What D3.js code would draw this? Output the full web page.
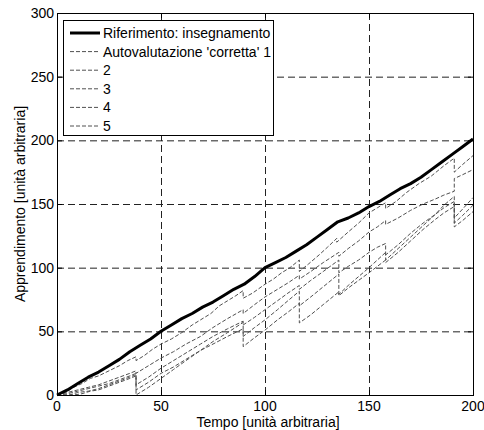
<!DOCTYPE html>
<html>
<head>
<meta charset="utf-8">
<title>apprendimento</title>
<style>
  body { margin: 0; background: #fff; }
  text { font-family: "Liberation Sans", Arial, Helvetica, sans-serif; font-size: 14px; fill: #000; }
</style>
</head>
<body>
<script src="https://d3js.org/d3.v7.min.js"></script>
<svg width="484" height="430" id="mainsvg"></svg>
<script>
// tick labels and legend
const xTicks = [0, 50, 100, 150, 200];
const yTicks = [0, 50, 100, 150, 200, 250, 300];
const legendLabels = ["Riferimento: insegnamento", "Autovalutazione 'corretta' 1", "2", "3", "4", "5"];

// reference (teaching)
const refX = [0,5,10,15,20,25,30,35,40,45,50,55,60,65,70,75,80,85,90,95,100,105,110,115,120,125,130,135,140,145,150,155,160,165,170,175,180,185,190,195,200];
const refY = [0,4,9,14,18,23,28,34,39,44,50,55,60,64,69,73,78,83,87,93,100,104,108,113,118,124,130,136,139,143,148,152,157,162,166,171,177,183,189,195,201];

// corrected self evaluations, [time, value]
const auto1 = [[0,0],[4,2],[8,6],[12,9],[16,13],[20,15],[25,19],[30,23],[34,27],[38,30],[38,27],[42,31],[46,36],[50,40],[55,44],[60,49],[65,55],[69,59],[74,64],[78,70],[82,74],[86,78],[89.5,82],[89.5,76],[94,80],[100,87],[104,91],[108,96],[112,100],[116.5,106],[116.5,97],[121,103],[126,110],[130,116],[134.5,123],[134.5,120],[140,128],[145,135],[150,143],[154,147],[158,151],[158,146.5],[163,152],[168,159],[174,166],[180,172],[186,180],[191,186],[191,175],[195,181],[200,188]];
const auto2 = [[0,0],[5,2],[10,4],[15,6],[20,8],[25,11],[30,14],[35,17],[38,19],[38,17],[44,23],[50,29],[56,34],[62,40],[69,46],[75,53],[82,60],[89.5,67],[89.5,64],[95,71],[100,77],[106,83],[111,88],[116.5,94],[116.5,91],[122,97],[128,104],[135.5,112],[135.5,109],[140,115],[145,121],[150,128],[154,132],[158,137],[158,134],[164,139],[170,145],[176,150],[182,154],[186,157],[191,160],[191,170],[195,173],[200,177]];
const auto3 = [[0,0],[5,1],[10,3],[15,5],[20,7],[25,9],[30,12],[35,15],[38,17],[38,8],[44,14],[50,21],[56,27],[62,33],[69,40],[75,46],[82,52],[89.5,58],[89.5,55],[95,61],[100,67],[106,74],[111,80],[116.5,86],[116.5,83],[122,90],[128,97],[135.5,106],[135.5,96],[140,101],[145,106],[150,112],[154,116],[158,119],[158,106],[164,115],[170,124],[176,133],[182,142],[186,149],[191,156],[191,139],[195,146],[200,155]];
const auto4 = [[0,0],[6,0],[10,2],[15,3],[20,5],[25,8],[30,11],[35,14],[38,16],[38,4],[44,10],[50,17],[56,22],[62,28],[69,35],[75,40],[82,46],[89.5,52],[89.5,46],[95,53],[100,59],[106,67],[111,74],[116.5,81.5],[116.5,56.6],[122,63],[128,71],[135.5,81],[135.5,79],[140,86],[145,93],[150,100],[154,106],[158,112],[158,110],[164,118],[170,127],[176,135],[182,142],[186,147],[191,152],[191,135],[195,141],[200,149]];
const auto5 = [[0,0],[8,0],[12,1],[16,3],[20,4],[25,7],[30,10],[35,13],[38,15],[38,0],[44,6],[50,13],[56,20],[62,27],[69,35],[75,42],[82,49],[89.5,57],[89.5,38],[95,45],[100,51],[106,59],[111,65],[116.5,72],[116.5,70],[122,77],[128,85],[135.5,95],[135.5,78],[140,84],[145,90],[150,96],[154,101],[158,106],[158,104],[164,112],[170,121],[176,130],[182,138],[186,143],[191,148],[191,132],[195,137],[200,144]];

const svg = d3.select('#mainsvg');
const plotL = 57, plotR = 473, plotT = 13, plotB = 395;

const x = d3.scaleLinear().domain([0, 200]).range([plotL, plotR]);
const y = d3.scaleLinear().domain([0, 300]).range([plotB, plotT]);

// grid
const grid = svg.append("g")
    .attr("stroke", "#222")
    .attr("stroke-width", 1)
    .attr("stroke-dasharray", "7,4");
grid.selectAll("line.gx")
    .data(xTicks.slice(1, -1))
    .join("line")
    .attr("class", "gx")
    .attr("x1", d => x(d) + 0.5).attr("x2", d => x(d) + 0.5)
    .attr("y1", plotT).attr("y2", plotB);
grid.selectAll("line.gy")
    .data(yTicks.slice(1, -1))
    .join("line")
    .attr("class", "gy")
    .attr("y1", d => y(d) + 0.5).attr("y2", d => y(d) + 0.5)
    .attr("x1", plotL).attr("x2", plotR);

// series
const line = d3.line().x(d => x(d[0])).y(d => y(d[1]));
const autos = [auto1, auto2, auto3, auto4, auto5];
svg.append("g")
    .attr("fill", "none")
    .attr("stroke", "#505050")
    .attr("stroke-width", 1)
    .attr("stroke-dasharray", "4,2")
    .selectAll("path")
    .data(autos)
    .join("path")
    .attr("d", line);

svg.append("path")
    .datum(refX.map((d, i) => [d, refY[i]]))
    .attr("fill", "none")
    .attr("stroke", "#000")
    .attr("stroke-width", 3)
    .attr("stroke-linejoin", "round")
    .attr("d", line);

// axes box and ticks (inward, all four sides)
svg.append("rect")
    .attr("x", plotL + 0.5).attr("y", plotT + 0.5)
    .attr("width", plotR - plotL).attr("height", plotB - plotT)
    .attr("fill", "none").attr("stroke", "#000");

const ticks = svg.append("g").attr("stroke", "#000");
xTicks.forEach(d => {
    ticks.append("line").attr("x1", x(d) + 0.5).attr("x2", x(d) + 0.5).attr("y1", plotB).attr("y2", plotB - 5);
    ticks.append("line").attr("x1", x(d) + 0.5).attr("x2", x(d) + 0.5).attr("y1", plotT).attr("y2", plotT + 5);
});
yTicks.forEach(d => {
    ticks.append("line").attr("y1", y(d) + 0.5).attr("y2", y(d) + 0.5).attr("x1", plotL).attr("x2", plotL + 5);
    ticks.append("line").attr("y1", y(d) + 0.5).attr("y2", y(d) + 0.5).attr("x1", plotR).attr("x2", plotR - 5);
});

svg.append("g").selectAll("text")
    .data(xTicks)
    .join("text")
    .attr("x", d => x(d))
    .attr("y", plotB + 16)
    .attr("text-anchor", "middle")
    .text(d => d);

svg.append("g").selectAll("text")
    .data(yTicks)
    .join("text")
    .attr("x", plotL - 3)
    .attr("y", d => y(d) + 5)
    .attr("text-anchor", "end")
    .text(d => d);

svg.append("text")
    .attr("x", 268).attr("y", 427)
    .attr("text-anchor", "middle")
    .text("Tempo [unità arbitraria]");

svg.append("text")
    .attr("transform", "translate(25," + ((plotT + plotB) / 2) + ") rotate(-90)")
    .attr("text-anchor", "middle")
    .text("Apprendimento [unità arbitraria]");

// legend
const lg = svg.append("g");
lg.append("rect")
    .attr("x", 63.5).attr("y", 20.5)
    .attr("width", 210).attr("height", 115)
    .attr("fill", "#fff").attr("stroke", "#000");
const rows = lg.selectAll("g")
    .data(legendLabels)
    .join("g")
    .attr("transform", (d, i) => "translate(0," + (33 + i * 18.6) + ")");
rows.append("line")
    .attr("x1", 70).attr("x2", 100)
    .attr("stroke", (d, i) => i === 0 ? "#000" : "#505050")
    .attr("stroke-width", (d, i) => i === 0 ? 3 : 1)
    .attr("stroke-dasharray", (d, i) => i === 0 ? null : "4,2");
rows.append("text")
    .attr("x", 103)
    .attr("y", 5)
    .text(d => d);
</script>
</body>
</html>
